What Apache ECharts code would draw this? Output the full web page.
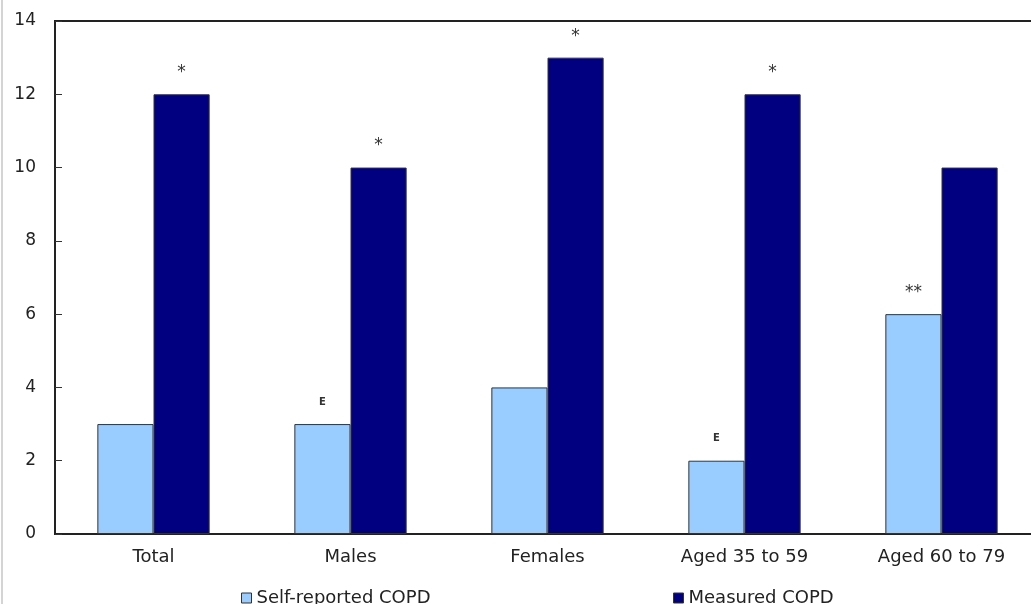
<!DOCTYPE html>
<html>
<head>
<meta charset="utf-8">
<script src="https://cdn.jsdelivr.net/npm/echarts@6/dist/echarts.min.js"></script>
<style>
  html, body { margin: 0; padding: 0; background: #fff; overflow: hidden; }
  /* the plot box runs a little past the right edge of the window */
  #chart { width: 1045px; height: 604px; }
</style>
</head>
<body>
<div id="chart"></div>
<script>
// Prevalence of COPD (%), self-reported vs measured
var categories = ['Total', 'Males', 'Females', 'Aged 35 to 59', 'Aged 60 to 79'];
var selfReported = [3, 3, 4, 2, 6];
var measured = [12, 10, 13, 12, 10];
// Footnote marks shown above each bar ('' = none)
var selfReportedNotes = ['', 'E', '', 'E', '**'];
var measuredNotes = ['*', '*', '*', '*', ''];
var yTicks = { min: 0, max: 14, interval: 2 };

var FONT = 'DejaVu Sans';

function withNotes(values, notes) {
  return values.map(function (v, i) {
    var n = notes[i];
    var small = n === 'E';
    return {
      value: v,
      label: {
        show: n !== '',
        position: 'top',
        formatter: n,
        distance: small ? 17 : 13,
        fontSize: small ? 10 : 17,
        fontWeight: small ? 'bold' : 'normal',
        color: '#333',
        fontFamily: FONT
      }
    };
  });
}

function legendAt(left, name) {
  return {
    left: left, top: 589, padding: 0, itemWidth: 10, itemHeight: 10,
    icon: 'rect',
    data: [{ name: name, itemStyle: { borderColor: '#333', borderWidth: 1 } }],
    textStyle: { fontFamily: FONT, fontSize: 18, color: '#222' }
  };
}

var chart = echarts.init(document.getElementById('chart'), null, { renderer: 'canvas' });
chart.setOption({
  animation: false,
  backgroundColor: '#fff',
  graphic: [{
    type: 'rect',
    shape: { x: 1, y: 0, width: 2, height: 604 },
    style: { fill: '#d4d4d4' },
    silent: true
  }],
  grid: {
    left: 55, top: 21, bottom: 70, right: 5,
    show: true, borderColor: '#222', borderWidth: 2, backgroundColor: 'transparent'
  },
  legend: [legendAt(241, 'Self-reported COPD'), legendAt(673, 'Measured COPD')],
  xAxis: {
    type: 'category',
    data: categories,
    axisLine: { lineStyle: { color: '#222', width: 2 } },
    axisTick: { inside: true, length: 6, lineStyle: { color: '#333', width: 1 } },
    axisLabel: { fontFamily: FONT, fontSize: 18, color: '#222', margin: 14 },
    splitLine: { show: false }
  },
  yAxis: {
    type: 'value',
    min: yTicks.min, max: yTicks.max, interval: yTicks.interval,
    axisLine: { show: true, lineStyle: { color: '#222', width: 2 } },
    axisTick: { show: true, inside: true, length: 7, lineStyle: { color: '#333', width: 1 } },
    axisLabel: { fontFamily: FONT, fontSize: 17, color: '#222', margin: 19 },
    splitLine: { show: false }
  },
  series: [{
    name: 'Self-reported COPD',
    type: 'bar',
    data: withNotes(selfReported, selfReportedNotes),
    barGap: '0%',
    barCategoryGap: '43%',
    itemStyle: { color: '#99CCFF', borderColor: '#333', borderWidth: 1 }
  }, {
    name: 'Measured COPD',
    type: 'bar',
    data: withNotes(measured, measuredNotes),
    barGap: '0%',
    barCategoryGap: '43%',
    itemStyle: { color: '#000080', borderColor: '#333', borderWidth: 1 }
  }]
});
</script>
</body>
</html>
